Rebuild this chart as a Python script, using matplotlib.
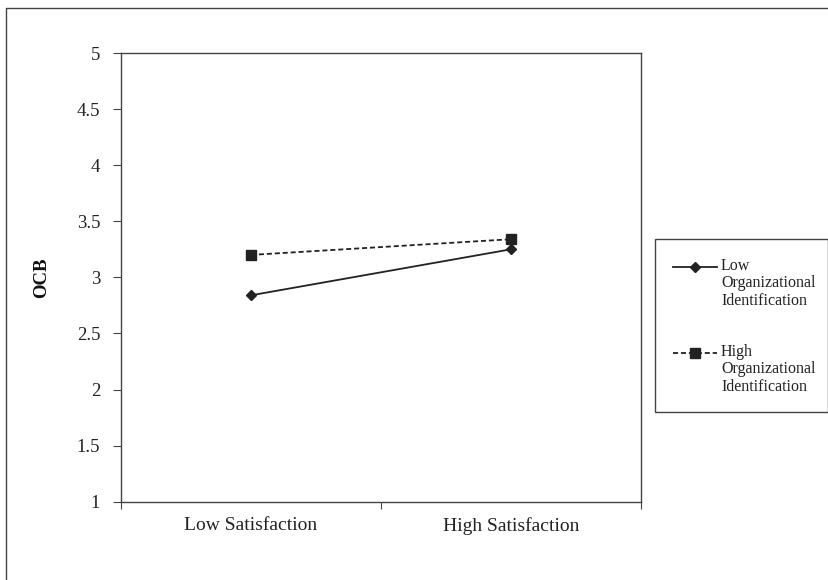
import matplotlib
matplotlib.use("Agg")
import matplotlib.pyplot as plt
from matplotlib.lines import Line2D
from matplotlib.patches import Rectangle

categories = ["Low Satisfaction", "High Satisfaction"]
low_oi = [2.84, 3.25]
high_oi = [3.20, 3.34]
series_labels = ["Low\nOrganizational\nIdentification", "High\nOrganizational\nIdentification"]
y_ticks = [1, 1.5, 2, 2.5, 3, 3.5, 4, 4.5, 5]
y_ticklabels = ["1", "1.5", "2", "2.5", "3", "3.5", "4", "4.5", "5"]

plt.rcParams['font.family'] = ['Liberation Serif', 'DejaVu Serif']

W, H = 829, 580
fig = plt.figure(figsize=(W / 100, H / 100), dpi=100)
fig.patch.set_facecolor("white")

def fx(px):
    return px / W

def fy(py):
    return 1 - py / H

ax = fig.add_axes([fx(121), fy(501.7), fx(641) - fx(121), fy(53) - fy(501.7)])

dark = "#222222"
edge = "#444444"
xs = [0.5, 1.5]
ax.plot(xs, low_oi, color=dark, lw=1.3, marker="D", ms=5.5, mfc=dark, mec=dark)
ax.plot(xs, high_oi, color=dark, lw=1.3, ls=(0, (2.8, 1.6)), marker="s", ms=6.5, mfc=dark, mec=dark)

ax.set_xlim(0, 2)
ax.set_ylim(1, 5)
ax.set_yticks(y_ticks)
ax.set_yticklabels(y_ticklabels)
ax.set_xticks([0, 1, 2])
ax.set_xticklabels([])
ax.set_xticks(xs, minor=True)
ax.set_xticklabels(categories, minor=True)
ax.tick_params(axis="x", which="minor", length=0, pad=11, labelsize=14, colors="#222222")
ax.tick_params(axis="x", which="major", length=5, direction="out", color=edge)
ax.tick_params(axis="y", length=6, direction="out", color=edge, pad=9, labelsize=13.5, labelcolor="#222222")
for s in ax.spines.values():
    s.set_color(edge)
    s.set_linewidth(1.0)

ax.set_ylabel("OCB", fontsize=13.5, fontweight="bold", color="#111111")
ax.yaxis.set_label_coords(-0.136, 0.5)

# outer border (top and left visible)
fig.add_artist(Line2D([fx(6.5), fx(6.5), fx(830)], [fy(590), fy(7.5), fy(7.5)],
                      color=edge, lw=1.0, transform=fig.transFigure))

# legend box
fig.add_artist(Rectangle((fx(655), fy(411.5)), fx(828) - fx(655), fy(239) - fy(411.5),
                         transform=fig.transFigure, fill=False, edgecolor=edge, lw=1.0))
styles = [dict(ls="-", marker="D", ms=5.5), dict(ls=(0, (2.8, 1.6)), marker="s", ms=6.5)]
ys = [267, 353]
for lab, st, yy in zip(series_labels, styles, ys):
    fig.add_artist(Line2D([fx(673), fx(717)], [fy(yy), fy(yy)], color=dark, lw=1.3,
                          ls=st["ls"], transform=fig.transFigure))
    fig.add_artist(Line2D([fx(695)], [fy(yy)], color=dark, marker=st["marker"], ms=st["ms"],
                          mfc=dark, mec=dark, ls="none", transform=fig.transFigure))
    fig.text(fx(721), fy(yy - 9), lab, fontsize=11.5, va="top", ha="left",
             color="#222222", linespacing=1.12)

fig.savefig("out.png", dpi=100, facecolor="white")
